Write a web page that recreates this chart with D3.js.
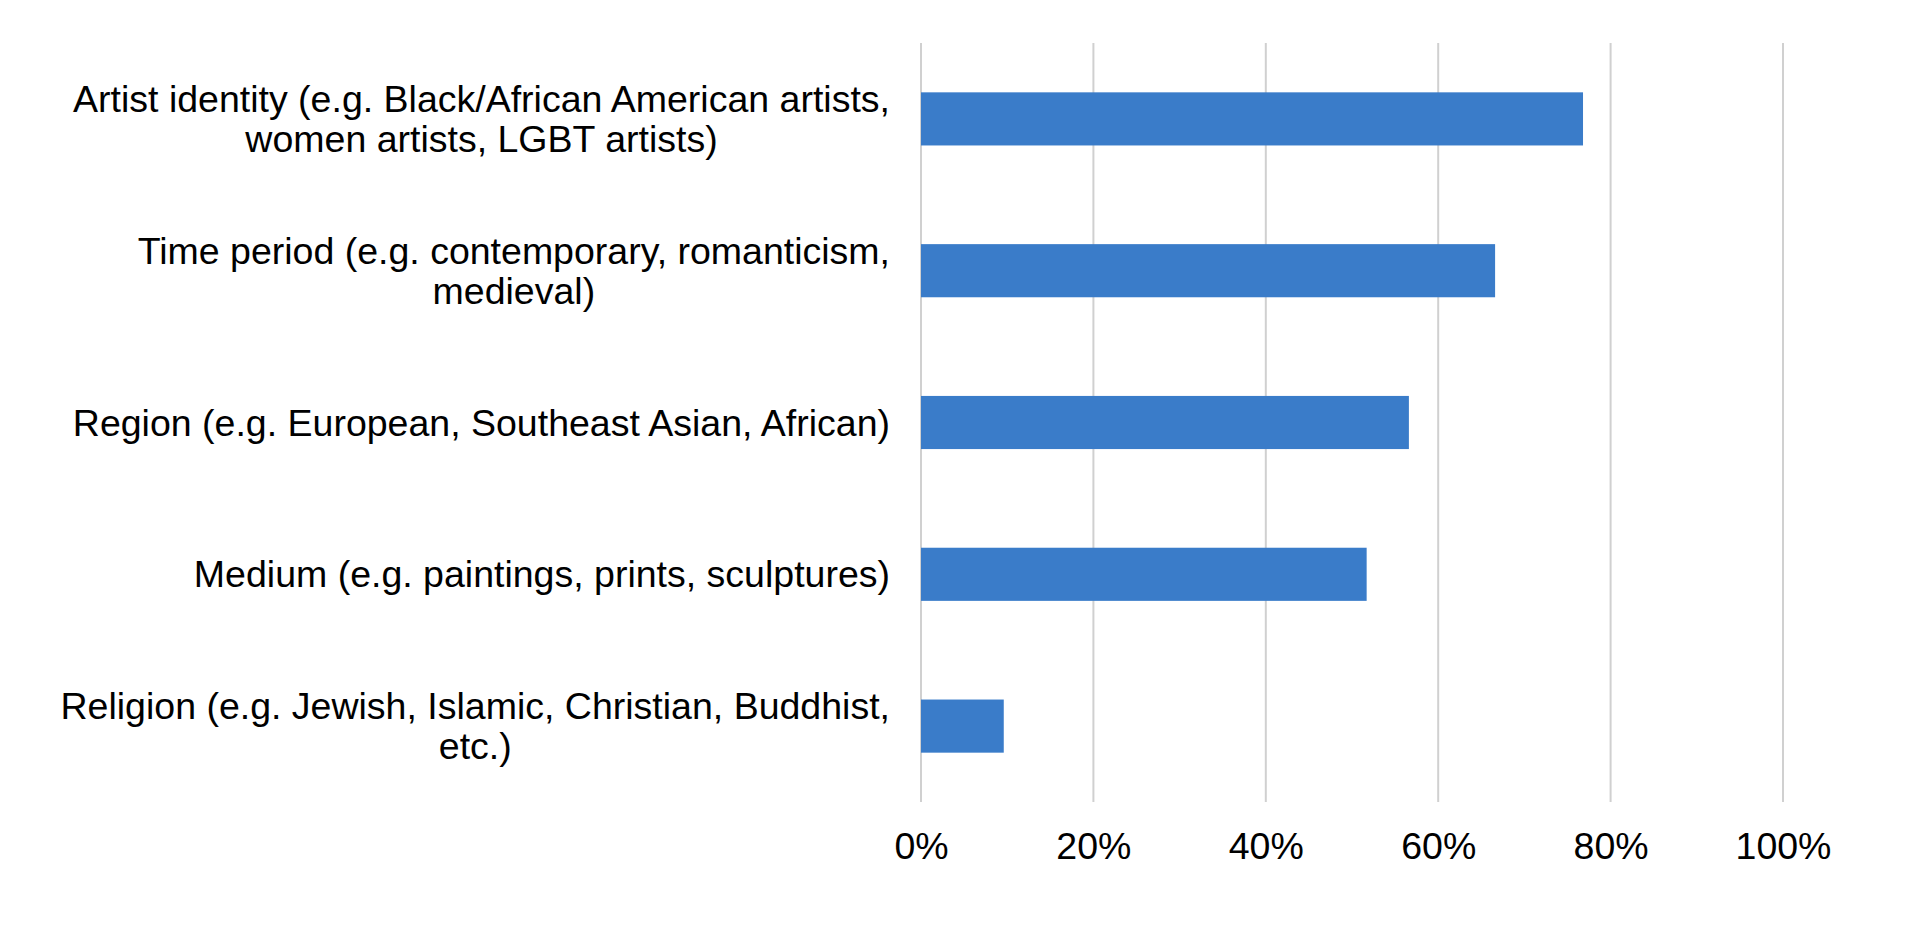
<!DOCTYPE html>
<html><head><meta charset="utf-8">
<script src="https://cdn.jsdelivr.net/npm/d3@7"></script>
<style>html,body{margin:0;padding:0;background:#fff;}svg{display:block;}</style>
</head><body>
<svg id="chart" width="1920" height="943"></svg>
<script>
const categories = [
  ["Artist identity (e.g. Black/African American artists,", "women artists, LGBT artists)"],
  ["Time period (e.g. contemporary, romanticism,", "medieval)"],
  ["Region (e.g. European, Southeast Asian, African)"],
  ["Medium (e.g. paintings, prints, sculptures)"],
  ["Religion (e.g. Jewish, Islamic, Christian, Buddhist,", "etc.)"]
];
const values = [0.768, 0.666, 0.566, 0.517, 0.096];
const tickValues = [0, 0.2, 0.4, 0.6, 0.8, 1.0];
const tickLabels = ["0%", "20%", "40%", "60%", "80%", "100%"];

const svg = d3.select("#chart");
const m = {left: 921, right: 1920 - 1783, top: 43, bottom: 943 - 802};
const W = 1920 - m.left - m.right, H = 943 - m.top - m.bottom;
const g = svg.append("g").attr("transform", `translate(${m.left},${m.top})`);
const x = d3.scaleLinear().domain([0, 1]).range([0, W]);
const y = d3.scaleBand().domain(d3.range(categories.length)).range([0, H]).paddingInner(0.65).paddingOuter(0.325);
const fontSize = 37.5;
const font = "'Liberation Sans', Arial, sans-serif";

// gridlines
g.selectAll("line.grid").data(tickValues).join("line")
  .attr("x1", d => x(d)).attr("x2", d => x(d))
  .attr("y1", 0).attr("y2", H)
  .attr("stroke", "#d0d0d0").attr("stroke-width", 2);

// bars
g.selectAll("rect.bar").data(values).join("rect")
  .attr("x", x(0)).attr("y", (d, i) => y(i))
  .attr("width", d => x(d)).attr("height", y.bandwidth())
  .attr("fill", "#3a7cc9");

// x axis tick labels via d3 axis
const xAxis = d3.axisBottom(x).tickValues(tickValues).tickFormat((d, i) => tickLabels[i]).tickSize(0).tickPadding(30);
const ax = g.append("g").attr("transform", `translate(0,${H})`).call(xAxis);
ax.select(".domain").remove();
ax.selectAll("text").attr("font-size", fontSize).attr("font-family", font).attr("fill", "#000");

// category labels: block right-aligned at rightEdge, lines centered within block
const rightEdge = -31;
const lineH = 40;
categories.forEach((lines, i) => {
  const cy = y(i) + y.bandwidth() / 2;
  const grp = g.append("g");
  const texts = lines.map((t, j) => grp.append("text")
    .attr("font-size", fontSize).attr("font-family", font).attr("fill", "#000")
    .attr("text-anchor", "middle").attr("dominant-baseline", "central")
    .attr("y", cy + (j - (lines.length - 1) / 2) * lineH).text(t));
  const maxW = d3.max(texts, t => t.node().getComputedTextLength());
  texts.forEach(t => t.attr("x", rightEdge - maxW / 2));
});
</script>
</body></html>
